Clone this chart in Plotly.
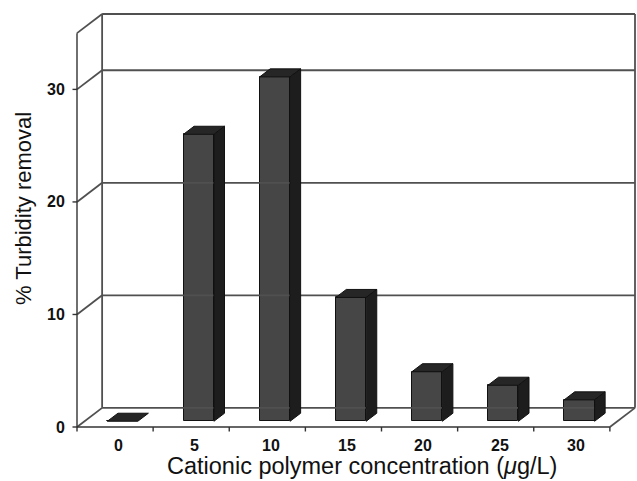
import plotly.graph_objects as go

# Data: turbidity removal vs. cationic polymer dose
concentration_labels = ["0", "5", "10", "15", "20", "25", "30"]
turbidity_removal = [0.0, 25.5, 30.6, 11.0, 4.4, 3.2, 1.9]
y_tick_values = [0, 10, 20, 30]
y_max = 35

# Pseudo-3D geometry (category units along x, value units along y)
DX, DY = 0.33, 1.7          # full depth of the box
F0, F1 = 0.30, 0.72         # depth span occupied by the columns
BAR_W = 0.40                # column width in category units

W, H = 637, 481
LEFT_PX, RIGHT_PX, TOP_PX, FLOOR_PX = 77, 635, 14, 427
n = len(concentration_labels)
PXC = (RIGHT_PX - LEFT_PX) / (n + DX)
PXY = (FLOOR_PX - TOP_PX) / (y_max + DY)
x_range = [-0.5 - LEFT_PX / PXC, -0.5 + (W - LEFT_PX) / PXC]
y_range = [-(H - FLOOR_PX) / PXY, FLOOR_PX / PXY]

x0, x1 = -0.5, n - 0.5

fig = go.Figure()


def add_segments(segs, color, width):
    xs, ys = [], []
    for (ax, ay), (bx, by) in segs:
        xs += [ax, bx, None]
        ys += [ay, by, None]
    fig.add_trace(go.Scatter(x=xs, y=ys, mode="lines",
                             line=dict(color=color, width=width),
                             hoverinfo="skip", showlegend=False))


# back wall, gridlines and their diagonals to the front axis
grid = []
for v in y_tick_values + [y_max]:
    grid.append(((x0 + DX, v + DY), (x1 + DX, v + DY)))
    grid.append(((x0, v), (x0 + DX, v + DY)))
grid.append(((x0 + DX, DY), (x0 + DX, y_max + DY)))
grid.append(((x1 + DX, DY), (x1 + DX, y_max + DY)))
grid.append(((x1, 0), (x1 + DX, DY)))
add_segments(grid, "#505050", 1.8)

# front axis lines and tick marks
front = [((x0, 0), (x0, y_max)), ((x0, 0), (x1, 0))]
for v in y_tick_values:
    front.append(((x0 - 4.5 / PXC, v), (x0, v)))
for i in range(n + 1):
    b = i - 0.5
    front.append(((b, 0), (b, -4.5 / PXY)))
add_segments(front, "#333333", 1.4)

# columns: front face as bars, top and side faces as filled polygons
depth = F1 - F0
centers = [i + F0 * DX for i in range(n)]
base = F0 * DY
fig.add_trace(go.Bar(x=centers, y=turbidity_removal, base=base, width=BAR_W,
                     marker=dict(color="#464646", line=dict(color="#111111", width=1)),
                     hoverinfo="skip", showlegend=False))

for c, v in zip(centers, turbidity_removal):
    xl, xr = c - BAR_W / 2, c + BAR_W / 2
    yb, yt = base, base + v
    ddx, ddy = depth * DX, depth * DY
    top = [(xl, yt), (xr, yt), (xr + ddx, yt + ddy), (xl + ddx, yt + ddy), (xl, yt)]
    fig.add_trace(go.Scatter(x=[p[0] for p in top], y=[p[1] for p in top],
                             mode="lines", fill="toself", fillcolor="#262626",
                             line=dict(color="#111111", width=1),
                             hoverinfo="skip", showlegend=False))
    if v > 0:
        side = [(xr, yb), (xr + ddx, yb + ddy), (xr + ddx, yt + ddy), (xr, yt), (xr, yb)]
        fig.add_trace(go.Scatter(x=[p[0] for p in side], y=[p[1] for p in side],
                                 mode="lines", fill="toself", fillcolor="#1d1d1d",
                                 line=dict(color="#111111", width=1),
                                 hoverinfo="skip", showlegend=False))

FONT = "Liberation Sans, Arial, sans-serif"
annotations = []
for v in y_tick_values:
    annotations.append(dict(x=x0, y=v, xref="x", yref="y", text=f"<b>{v}</b>",
                            showarrow=False, xanchor="right", yanchor="middle",
                            xshift=-10, font=dict(family=FONT, size=16, color="#111")))
for i, lab in enumerate(concentration_labels):
    annotations.append(dict(x=i + 0.05, y=0, xref="x", yref="y", text=f"<b>{lab}</b>",
                            showarrow=False, xanchor="center", yanchor="top",
                            yshift=-8, font=dict(family=FONT, size=16, color="#111")))
annotations.append(dict(x=362 / W, y=1 - 466 / H, xref="paper", yref="paper",
                        text="Cationic polymer concentration (<i>μ</i>g/L)",
                        showarrow=False, xanchor="center", yanchor="middle",
                        font=dict(family=FONT, size=23.5, color="#111")))
annotations.append(dict(x=24 / W, y=1 - 209 / H, xref="paper", yref="paper",
                        text="% Turbidity removal", textangle=-90,
                        showarrow=False, xanchor="center", yanchor="middle",
                        font=dict(family=FONT, size=22, color="#111")))

fig.update_layout(
    width=W, height=H, autosize=False,
    margin=dict(l=0, r=0, t=0, b=0),
    paper_bgcolor="white", plot_bgcolor="white",
    xaxis=dict(range=x_range, visible=False, fixedrange=True, domain=[0, 1]),
    yaxis=dict(range=y_range, visible=False, fixedrange=True, domain=[0, 1]),
    annotations=annotations,
    bargap=0,
)

fig.write_html("out.html")
